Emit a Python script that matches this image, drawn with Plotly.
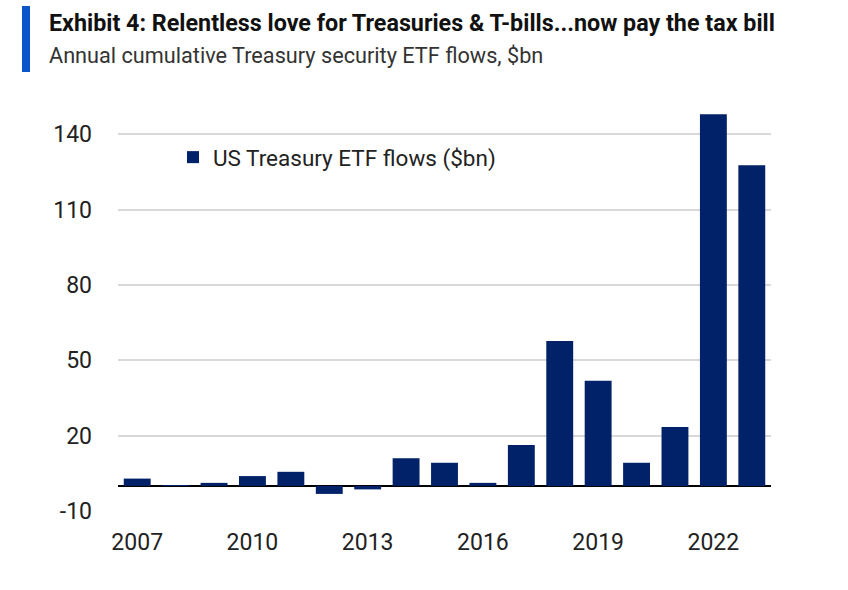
import plotly.graph_objects as go

years = list(range(2007, 2024))
flows = [2.9, 0.3, 1.2, 3.9, 5.6, -3.2, -1.4, 11.0, 9.2, 1.2, 16.3, 57.7, 41.8, 9.2, 23.4, 147.9, 127.6]
tick_years = [2007, 2010, 2013, 2016, 2019, 2022]
y_ticks = [-10, 20, 50, 80, 110, 140]
y_tick_labels = ["-10", "20", "50", "80", "110", "140"]

title = "Exhibit 4: Relentless love for Treasuries & T-bills...now pay the tax bill"
subtitle = "Annual cumulative Treasury security ETF flows, $bn"
series_name = "US Treasury ETF flows ($bn)"

FONT = "Roboto, sans-serif"
NAVY = "#012169"

L, R, T, B = 118, 77, 104, 79
W, H = 848, 590
pw = W - L - R
ph = H - T - B

def px(x):
    return (x - L) / pw

def py(y):
    return 1 + (T - y) / ph

fig = go.Figure()
fig.add_trace(go.Bar(x=years, y=flows, name=series_name, marker=dict(color=NAVY, line=dict(width=0)),
                     width=0.7, showlegend=True))

fig.update_layout(
    width=W, height=H,
    margin=dict(l=L, r=R, t=T, b=B),
    paper_bgcolor="white", plot_bgcolor="white",
    font=dict(family=FONT, size=22, color="#222222"),
    xaxis=dict(range=[2006.5, 2023.5], tickvals=tick_years, ticktext=[str(y) for y in tick_years],
               showgrid=False, zeroline=False, showline=False, ticks="", ticklen=0,
               tickfont=dict(size=23, color="#222222"), ticklabelstandoff=15),
    yaxis=dict(range=[-10, 152], tickvals=y_ticks, ticktext=y_tick_labels,
               showgrid=True, gridcolor="#d9d9d9", gridwidth=2,
               zeroline=True, zerolinecolor="#000000", zerolinewidth=2, ticks="", ticklen=0,
               tickfont=dict(size=23, color="#222222"), ticklabelstandoff=25),
    showlegend=True,
    legend=dict(x=px(173), y=py(136), xanchor="left", yanchor="top",
                bgcolor="rgba(0,0,0,0)", font=dict(size=22.5, color="#222222"),
                itemwidth=30, tracegroupgap=0),
    bargap=0.3,
)

fig.add_annotation(xref="paper", yref="paper", x=px(47), y=py(23),
                   text="<b>" + title.replace("&", "&amp;") + "</b>", showarrow=False,
                   xanchor="left", yanchor="middle", font=dict(family=FONT, size=23.3, color="#111111"))
fig.add_annotation(xref="paper", yref="paper", x=px(47), y=py(56),
                   text=subtitle.replace("$", "&#36;"), showarrow=False,
                   xanchor="left", yanchor="middle", font=dict(family=FONT, size=21.7, color="#333333"))
fig.add_shape(type="rect", xref="paper", yref="paper",
              x0=px(22), x1=px(30), y0=py(72), y1=py(6),
              fillcolor="#0a55c8", line=dict(width=0))

fig.write_html("out.html", config={"displayModeBar": False},
               post_script="document.body.style.margin='0';")
